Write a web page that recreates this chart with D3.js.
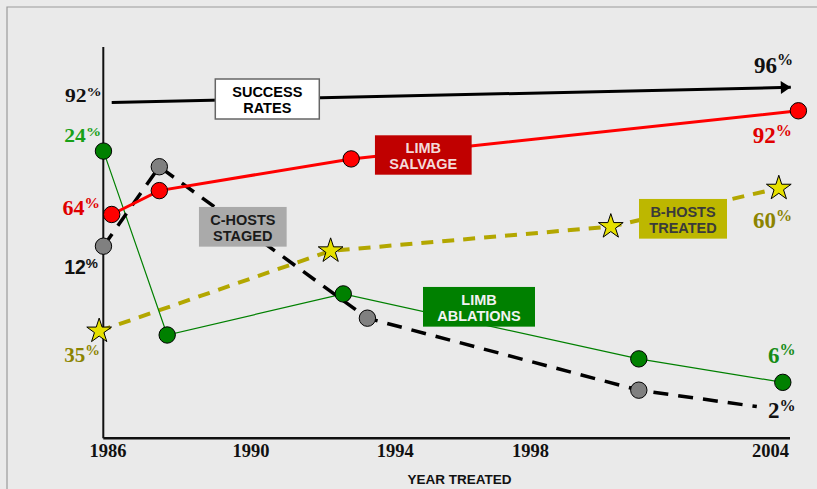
<!DOCTYPE html>
<html><head><meta charset="utf-8">
<script src="https://cdn.jsdelivr.net/npm/d3@7"></script>
<style>
html,body{margin:0;padding:0;background:#eaeaea;}
svg{display:block;}
</style></head>
<body>
<script>
// ---------- DATA ----------
const tickYears = [1986, 1990, 1994, 1998, 2004];
const ablationYears  = [1985.89, 1987.67, 1992.57, 2000.72, 2004.32];
const ablationValues = [73.4, 26.4, 36.9, 20.3, 14.3];
const stagedYears    = [1985.89, 1987.45, 1993.24, 2000.72, 2003.67];
const stagedValues   = [49.1, 69.4, 30.7, 12.3, 8.1];
const salvageYears   = [1986.12, 1987.45, 1992.79, 2004.71];
const salvageValues  = [57.2, 63.3, 71.4, 83.7];
const bhostYears     = [1985.77, 1992.22, 2000.02, 2004.22];
const bhostValues    = [27.4, 47.9, 54.1, 63.9];
const successYears   = [1986.12, 2004.52];
const successValues  = [85.8, 89.7];
const xAxisTitle = "YEAR TREATED";

// ---------- SETUP ----------
const W = 817, H = 489;
const svg = d3.select("body").append("svg").attr("width", W).attr("height", H);
svg.append("rect").attr("width", W).attr("height", H).attr("fill", "#eaeaea");
// frame
svg.append("path").attr("d", `M7,${H} L7,7 L${W},7`).attr("fill", "none")
  .attr("stroke", "#9a9a9a").attr("stroke-width", 1.2);

const x = d3.scaleLinear().domain(tickYears).range([107.4, 250.6, 394.8, 530, 770]);
const y = d3.scaleLinear().domain([0, 100]).range([438.3, 47]);

// axes
svg.append("line").attr("x1", 103.3).attr("x2", 103.3).attr("y1", 47).attr("y2", 438.3)
  .attr("stroke", "#111").attr("stroke-width", 2);
const xAxis = d3.axisBottom(x).tickValues(tickYears).tickFormat(d3.format("d")).tickSize(0).tickPadding(0);
const gx = svg.append("g").attr("transform", "translate(0,438.3)").call(xAxis);
gx.select(".domain").remove();
gx.append("line").attr("x1", 103.3).attr("x2", 790).attr("stroke", "#111").attr("stroke-width", 2.5);
gx.selectAll("text").attr("font-family", "'Liberation Serif','Times New Roman',serif")
  .attr("font-weight", "bold").attr("font-size", 18.5).attr("fill", "#111")
  .attr("dy", null).attr("y", 18.4);
svg.append("text").attr("x", 459.5).attr("y", 484).attr("text-anchor", "middle")
  .attr("font-family", "'Liberation Sans',Arial,sans-serif").attr("font-weight", "bold")
  .attr("font-size", 13.5).attr("fill", "#111").text(xAxisTitle);

const zip = (xs, ys) => xs.map((d, i) => [d, ys[i]]);
const line = d3.line().x(d => x(d[0])).y(d => y(d[1]));

// arrow marker
svg.append("defs").append("marker").attr("id", "arrow").attr("markerUnits", "userSpaceOnUse")
  .attr("markerWidth", 14).attr("markerHeight", 16).attr("refX", 11).attr("refY", 8)
  .attr("orient", "auto")
  .append("path").attr("d", "M1,1.5 L11,8 L1,14.5 Z").attr("fill", "#000");

// success rates
svg.append("path").attr("d", line(zip(successYears, successValues))).attr("fill", "none")
  .attr("stroke", "#000").attr("stroke-width", 3).attr("marker-end", "url(#arrow)");

// b-hosts (yellow dashed)
svg.append("path").attr("d", line(zip(bhostYears, bhostValues))).attr("fill", "none")
  .attr("stroke", "#b3a700").attr("stroke-width", 4).attr("stroke-dasharray", "12,9");

// limb ablations (thin green)
svg.append("path").attr("d", line(zip(ablationYears, ablationValues))).attr("fill", "none")
  .attr("stroke", "#008000").attr("stroke-width", 1.2);

// c-hosts staged (black dashed)
svg.append("path").attr("d", line(zip(stagedYears, stagedValues))).attr("fill", "none")
  .attr("stroke", "#000").attr("stroke-width", 3.5).attr("stroke-dasharray", "15,10");

// limb salvage (red)
svg.append("path").attr("d", line(zip(salvageYears, salvageValues))).attr("fill", "none")
  .attr("stroke", "#ff0000").attr("stroke-width", 3);

// markers
function circles(xs, ys, fill) {
  svg.append("g").selectAll("circle").data(zip(xs, ys)).join("circle")
    .attr("cx", d => x(d[0])).attr("cy", d => y(d[1])).attr("r", 8.2)
    .attr("fill", fill).attr("stroke", "#000").attr("stroke-width", 1);
}
circles(ablationYears, ablationValues, "#008000");
circles(stagedYears.slice(0, 4), stagedValues.slice(0, 4), "#808080");
circles(salvageYears, salvageValues, "#ff0000");

const star = d3.symbol().type(d3.symbolStar).size(190);
svg.append("g").selectAll("path").data(zip(bhostYears, bhostValues)).join("path")
  .attr("transform", d => `translate(${x(d[0])},${y(d[1])})`)
  .attr("d", star).attr("fill", "#e6e000").attr("stroke", "#000").attr("stroke-width", 1);

// labelled boxes
const boxes = [
  {lines: ["SUCCESS", "RATES"], cx: 267.3, cy: 99, w: 104, h: 40, fill: "#ffffff", stroke: "#666", text: "#000"},
  {lines: ["LIMB", "SALVAGE"], cx: 423.3, cy: 155, w: 96.7, h: 39.4, fill: "#c00000", stroke: "none", text: "#f3dada"},
  {lines: ["C-HOSTS", "STAGED"], cx: 242.8, cy: 226.8, w: 87.7, h: 39.7, fill: "#aaaaaa", stroke: "none", text: "#1a1a1a"},
  {lines: ["LIMB", "ABLATIONS"], cx: 479, cy: 306.8, w: 112, h: 39.7, fill: "#008000", stroke: "none", text: "#f2f2f2"},
  {lines: ["B-HOSTS", "TREATED"], cx: 683, cy: 218.8, w: 88, h: 39.7, fill: "#bdb700", stroke: "none", text: "#3a3a3a"}
];
boxes.forEach(b => {
  const g = svg.append("g");
  g.append("rect").attr("x", b.cx - b.w / 2).attr("y", b.cy - b.h / 2).attr("width", b.w).attr("height", b.h)
    .attr("fill", b.fill).attr("stroke", b.stroke).attr("stroke-width", 1.5);
  b.lines.forEach((t, i) => {
    g.append("text").attr("x", b.cx).attr("y", b.cy - 1.7 + i * 15.4).attr("text-anchor", "middle")
      .attr("font-family", "'Liberation Sans',Arial,sans-serif").attr("font-weight", "bold")
      .attr("font-size", 14.5).attr("fill", b.text).text(t);
  });
});

// percent labels
const pctLabels = [
  {num: "92", x: 101.7, y: 101.7, anchor: "end", color: "#111", size: 18, sx: 1.2, serif: true},
  {num: "24", x: 101, y: 141.7, anchor: "end", color: "#18a018", size: 18, sx: 1.2, serif: true},
  {num: "64", x: 100, y: 215, anchor: "end", color: "#e00000", size: 21, sx: 1.05, serif: true},
  {num: "12", x: 98, y: 274.3, anchor: "end", color: "#111", size: 19.5, sx: 1.0, serif: false},
  {num: "35", x: 100, y: 361.7, anchor: "end", color: "#8c8400", size: 20, sx: 1.05, serif: true},
  {num: "96", x: 754, y: 72.7, anchor: "start", color: "#111", size: 23, sx: 1.0, serif: true},
  {num: "92", x: 752.7, y: 143.3, anchor: "start", color: "#e00000", size: 23, sx: 1.0, serif: true},
  {num: "60", x: 753, y: 228.3, anchor: "start", color: "#8c8400", size: 23, sx: 1.0, serif: true},
  {num: "6", x: 768, y: 362.7, anchor: "start", color: "#168c16", size: 23, sx: 1.0, serif: true},
  {num: "2", x: 768, y: 418.3, anchor: "start", color: "#111", size: 23, sx: 1.0, serif: true}
];
pctLabels.forEach(l => {
  const t = svg.append("g").attr("transform", `translate(${l.x},${l.y}) scale(${l.sx},1)`)
    .append("text").attr("text-anchor", l.anchor)
    .attr("font-family", l.serif ? "'Liberation Serif','Times New Roman',serif" : "'Liberation Sans',Arial,sans-serif")
    .attr("font-weight", "bold").attr("fill", l.color);
  t.append("tspan").attr("font-size", l.size).text(l.num);
  t.append("tspan").attr("font-size", l.size * 0.7).attr("dy", -l.size * 0.32).text("%");
});
</script>
</body></html>
